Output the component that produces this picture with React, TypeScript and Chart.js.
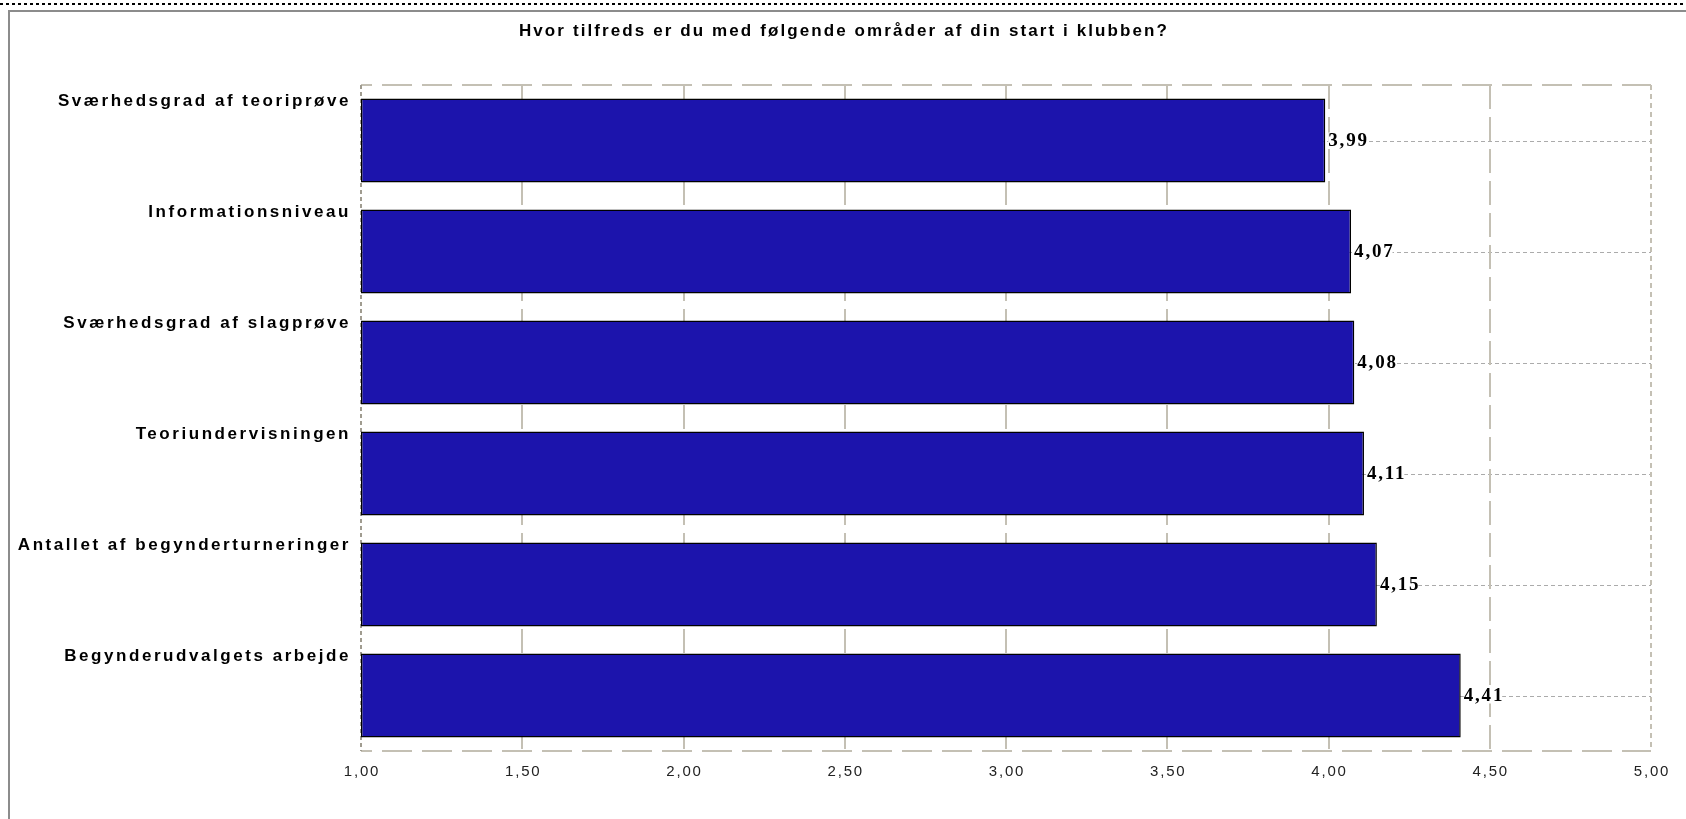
import React, { useEffect, useRef } from 'react';
import { Chart, registerables } from 'chart.js';

Chart.register(...registerables);

const chartTitle = 'Hvor tilfreds er du med følgende områder af din start i klubben?';
const categories = [
  'Sværhedsgrad af teoriprøve',
  'Informationsniveau',
  'Sværhedsgrad af slagprøve',
  'Teoriundervisningen',
  'Antallet af begynderturneringer',
  'Begynderudvalgets arbejde',
];
const values = [3.99, 4.07, 4.08, 4.11, 4.15, 4.41];
const axisMin = 1;
const axisMax = 5;
const axisStep = 0.5;

const fmt = (v: number) => v.toFixed(2).replace('.', ',');

const W = 1686;
const H = 819;

const decorPlugin = {
  id: 'decor',
  beforeDatasetsDraw(chart: any) {
    const { ctx, chartArea: a, scales } = chart;
    const xs = scales.x;
    const ys = scales.y;
    const line = (x1: number, y1: number, x2: number, y2: number) => {
      ctx.beginPath();
      ctx.moveTo(x1, y1);
      ctx.lineTo(x2, y2);
      ctx.stroke();
    };
    ctx.save();
    // horizontal category grid lines
    ctx.strokeStyle = '#ababab';
    ctx.lineWidth = 1;
    ctx.setLineDash([4, 3]);
    categories.forEach((_, i) => {
      const py = Math.round(ys.getPixelForValue(i)) + 0.5;
      line(a.left, py, a.right, py);
    });
    // vertical value grid lines
    ctx.strokeStyle = '#c4c0b4';
    ctx.lineWidth = 2;
    ctx.setLineDash([24, 8]);
    xs.ticks.forEach((t: any) => {
      if (t.value <= axisMin || t.value >= axisMax) return;
      const px = Math.round(xs.getPixelForValue(t.value));
      line(px, a.top, px, a.bottom);
    });
    // top / bottom frame
    ctx.setLineDash([30, 10]);
    ctx.lineDashOffset = 19;
    line(a.left, a.top, a.right, a.top);
    line(a.left, a.bottom, a.right, a.bottom);
    ctx.lineDashOffset = 0;
    // right frame
    ctx.setLineDash([5, 4]);
    line(a.right, a.top, a.right, a.bottom);
    // left axis
    ctx.strokeStyle = '#a09c90';
    ctx.setLineDash([4, 3]);
    line(a.left, a.top, a.left, a.bottom);
    ctx.restore();
  },
  afterDatasetsDraw(chart: any) {
    const { ctx, chartArea: a, scales } = chart;
    const xs = scales.x;
    const meta = chart.getDatasetMeta(0);
    ctx.save();
    ctx.setLineDash([]);
    // value labels
    ctx.font = 'bold 19px "Liberation Serif"';
    (ctx as any).letterSpacing = '1.8px';
    ctx.textBaseline = 'middle';
    ctx.textAlign = 'left';
    meta.data.forEach((el: any, i: number) => {
      const txt = fmt(values[i]);
      const w = ctx.measureText(txt).width;
      ctx.fillStyle = '#ffffff';
      ctx.fillRect(el.x + 3, el.y - 8, w - 2, 16);
      ctx.fillStyle = '#000000';
      ctx.fillText(txt, el.x + 3, el.y + 1);
    });
    // category labels
    ctx.font = 'bold 17px "Liberation Sans"';
    (ctx as any).letterSpacing = '2.55px';
    ctx.textAlign = 'right';
    ctx.fillStyle = '#000000';
    meta.data.forEach((el: any, i: number) => {
      const top = el.y - el.height / 2;
      ctx.fillText(categories[i], a.left - 10, top + 3);
    });
    // x tick labels
    ctx.font = '15px "Liberation Sans"';
    (ctx as any).letterSpacing = '1.8px';
    ctx.textAlign = 'center';
    ctx.fillStyle = '#222222';
    xs.ticks.forEach((t: any) => {
      const px = xs.getPixelForValue(t.value);
      ctx.fillText(fmt(t.value), px + 1, a.bottom + 21);
    });
    // title
    ctx.font = 'bold 17px "Liberation Sans"';
    (ctx as any).letterSpacing = '2.1px';
    ctx.fillStyle = '#000000';
    ctx.fillText(chartTitle, W / 2 + 1, 31);
    (ctx as any).letterSpacing = '0px';
    // outer decoration
    ctx.strokeStyle = '#000000';
    ctx.lineWidth = 2;
    ctx.setLineDash([3, 3]);
    ctx.beginPath();
    ctx.moveTo(0, 4);
    ctx.lineTo(W, 4);
    ctx.stroke();
    ctx.setLineDash([]);
    ctx.strokeStyle = '#8c8c8c';
    ctx.beginPath();
    ctx.moveTo(9, H);
    ctx.lineTo(9, 11);
    ctx.lineTo(W, 11);
    ctx.stroke();
    ctx.restore();
  },
};

export default function App() {
  const ref = useRef<HTMLCanvasElement | null>(null);
  useEffect(() => {
    if (!ref.current) return;
    const chart = new Chart(ref.current, {
      type: 'bar',
      data: {
        labels: categories,
        datasets: [
          {
            data: values,
            base: axisMin,
            backgroundColor: '#1c14ac',
            borderColor: '#000000',
            borderWidth: 1.5,
            borderSkipped: false,
            barPercentage: 0.756,
            categoryPercentage: 1,
          } as any,
        ],
      },
      options: {
        indexAxis: 'y',
        animation: false,
        responsive: false,
        devicePixelRatio: 1,
        layout: { padding: { left: 361, right: W - 1651, top: 85, bottom: H - 751 } },
        plugins: { legend: { display: false }, tooltip: { enabled: false }, title: { display: false } },
        scales: {
          x: { display: false, min: axisMin, max: axisMax, ticks: { stepSize: axisStep } },
          y: { display: false },
        },
      },
      plugins: [decorPlugin],
    });
    return () => chart.destroy();
  }, []);
  return (
    <div style={{ position: 'fixed', left: 0, top: 0, width: W, height: H, background: '#ffffff' }}>
      <canvas ref={ref} width={W} height={H} style={{ width: W, height: H, display: 'block' }} />
    </div>
  );
}
